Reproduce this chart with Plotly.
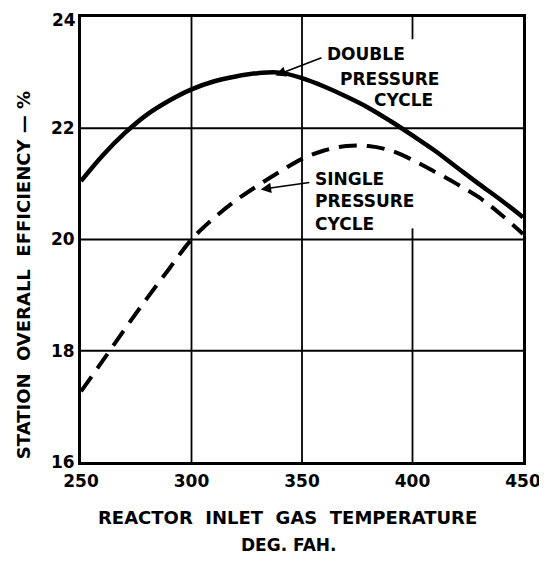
import plotly.graph_objects as go

temps = [250, 260, 270, 280, 290, 300, 310, 320, 330, 340, 350, 360, 370, 380, 390, 400, 410, 420, 430, 440, 450]
double_eff = [21.05, 21.52, 21.92, 22.25, 22.5, 22.7, 22.84, 22.93, 22.99, 23.0, 22.9, 22.75, 22.57, 22.37, 22.13, 21.87, 21.6, 21.3, 21.0, 20.71, 20.4]
single_eff = [17.27, 17.83, 18.4, 18.95, 19.48, 20.0, 20.38, 20.7, 20.97, 21.22, 21.45, 21.6, 21.68, 21.68, 21.6, 21.43, 21.22, 21.0, 20.76, 20.45, 20.1]
x_ticks = [250, 300, 350, 400, 450]
y_ticks = [16, 18, 20, 22, 24]

FONT = "DejaVu Sans"
BOLD = dict(family=FONT, color="black", weight="bold")
fig = go.Figure()
fig.add_trace(go.Scatter(x=temps, y=double_eff, mode="lines", line=dict(color="black", width=4.5, shape="spline", smoothing=1.0),
                         name="Double pressure cycle", showlegend=False))
fig.add_trace(go.Scatter(x=temps, y=single_eff, mode="lines", line=dict(color="black", width=4, shape="spline", smoothing=1.0, dash="18px,10px"),
                         name="Single pressure cycle", showlegend=False))

# grid lines
GRID = dict(color="black", width=1.8)
for xv in [300, 350]:
    fig.add_shape(type="line", x0=xv, x1=xv, y0=16, y1=24, line=GRID, layer="below")
fig.add_shape(type="line", x0=400, x1=400, y0=23.6, y1=24, line=GRID, layer="below")
fig.add_shape(type="line", x0=400, x1=400, y0=16, y1=20.2, line=GRID, layer="below")
for yv in [18, 20, 22]:
    fig.add_shape(type="line", x0=250, x1=450, y0=yv, y1=yv, line=GRID, layer="below")

# labels
fig.add_annotation(x=338, y=22.95, ax=359.5, ay=23.28, axref="x", ayref="y", text="", showarrow=True,
                   arrowhead=2, arrowsize=1.3, arrowwidth=1.6, arrowcolor="black")
for txt, xv, yv in [("DOUBLE", 360.6, 23.34), ("PRESSURE", 366.5, 22.89), ("CYCLE", 381.8, 22.5)]:
    fig.add_annotation(x=xv, y=yv, text=txt, showarrow=False, xanchor="left", yanchor="middle",
                       font=dict(size=17, **BOLD))
fig.add_annotation(x=331.3, y=20.9, ax=354, ay=21.03, axref="x", ayref="y", text="", showarrow=True,
                   arrowhead=2, arrowsize=1.3, arrowwidth=1.6, arrowcolor="black")
for txt, xv, yv in [("SINGLE", 355.2, 21.08), ("PRESSURE", 355.2, 20.69), ("CYCLE", 355.2, 20.28)]:
    fig.add_annotation(x=xv, y=yv, text=txt, showarrow=False, xanchor="left", yanchor="middle",
                       font=dict(size=17, **BOLD))

# top y tick label (drawn as annotation so it is not clipped at the page edge)
fig.add_annotation(xref="paper", x=0, y=y_ticks[-1], yref="y", text=str(y_ticks[-1]), showarrow=False,
                   xanchor="right", yanchor="middle", xshift=-3, yshift=-3, font=dict(size=17, **BOLD))

# axis titles
fig.add_annotation(xref="paper", yref="paper", x=0.467, y=-0.125, text="REACTOR  INLET  GAS  TEMPERATURE",
                   showarrow=False, xanchor="center", yanchor="middle", font=dict(size=18, **BOLD))
fig.add_annotation(xref="paper", yref="paper", x=0.47, y=-0.186, text="DEG. FAH.",
                   showarrow=False, xanchor="center", yanchor="middle", font=dict(size=17, **BOLD))
fig.add_annotation(xref="paper", yref="paper", x=-0.131, y=0.42, text="STATION  OVERALL  EFFICIENCY — %",
                   textangle=-90, showarrow=False, xanchor="center", yanchor="middle", font=dict(size=18, **BOLD))

fig.update_layout(
    width=547, height=561,
    margin=dict(l=73, r=32, t=9, b=107, autoexpand=False),
    paper_bgcolor="white", plot_bgcolor="white",
    font=dict(family=FONT, color="black", size=14),
    xaxis=dict(range=[250, 450], tickvals=x_ticks, showgrid=False, zeroline=False, automargin=False,
               showline=True, linecolor="black", linewidth=3, mirror=True, ticks="outside", ticklen=2, tickcolor="white",
               tickfont=dict(size=17, **BOLD)),
    yaxis=dict(range=[16, 24], tickvals=y_ticks[:-1], showgrid=False, zeroline=False, automargin=False,
               showline=True, linecolor="black", linewidth=3, mirror=True, ticks="",
               tickfont=dict(size=17, **BOLD)),
)
fig.write_html("out.html")
